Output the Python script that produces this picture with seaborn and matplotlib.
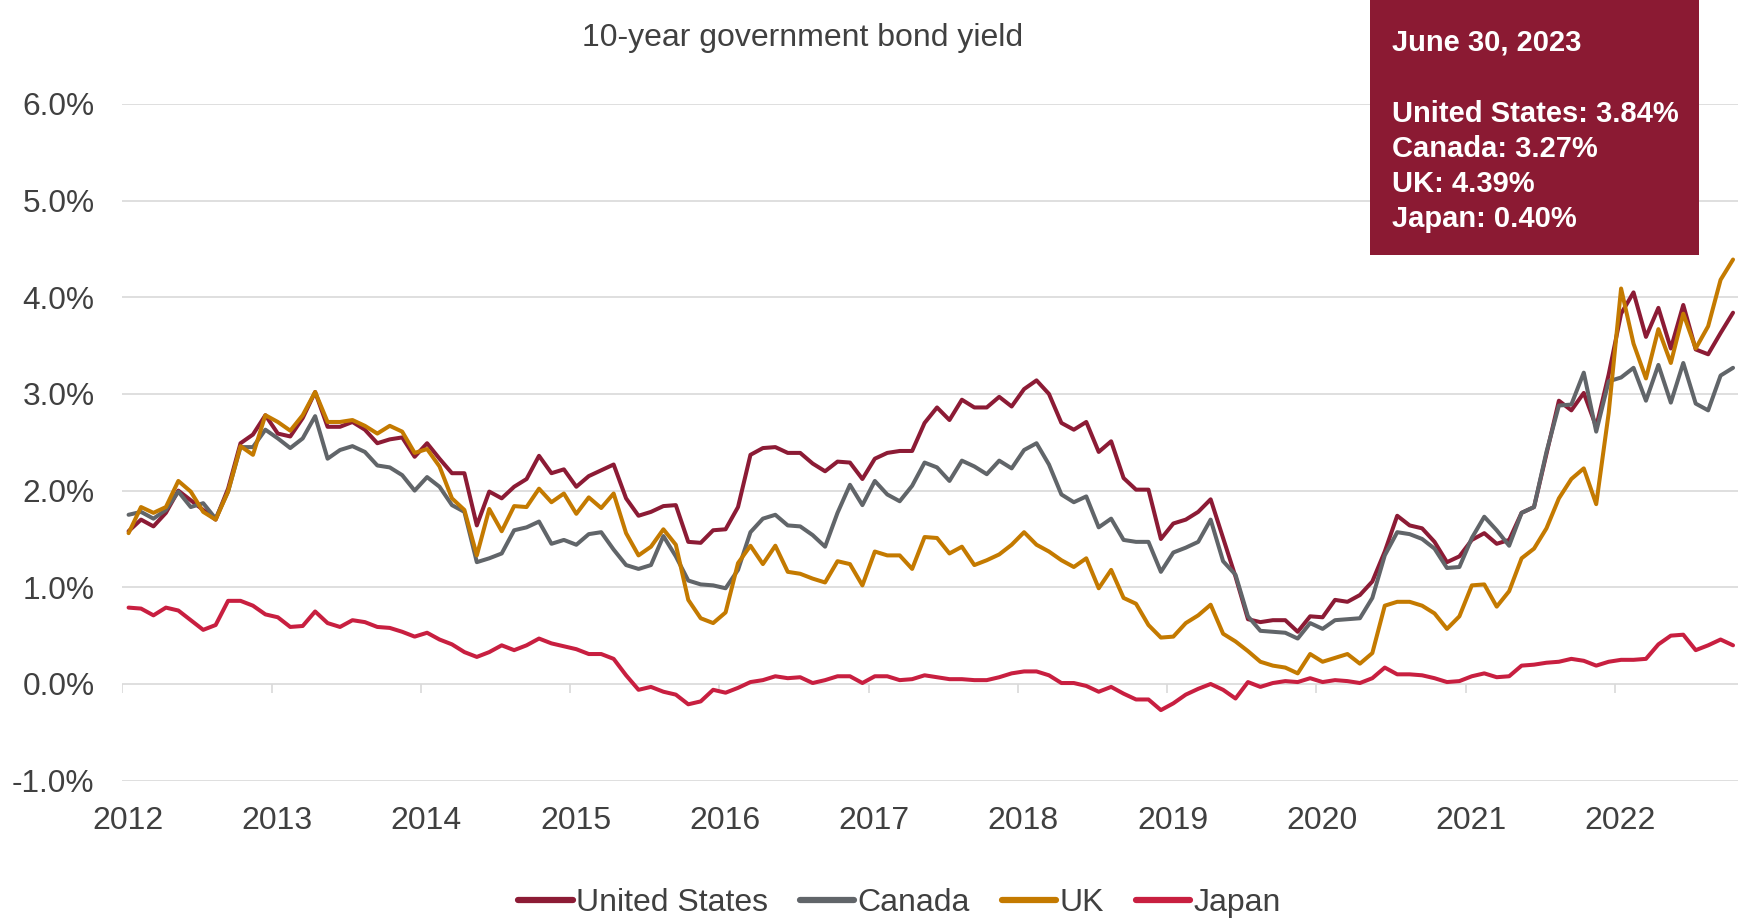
import numpy as np
import pandas as pd
import matplotlib
matplotlib.use("Agg")
import matplotlib.pyplot as plt
import seaborn as sns
from matplotlib.patches import Rectangle
from matplotlib.transforms import ScaledTranslation

# Month-end 10-year yields (%), oldest first
united_states = [
    1.58, 1.70, 1.63, 1.77, 2.00, 1.90, 1.80, 1.70, 2.02, 2.49, 2.58, 2.78,
    2.59, 2.56, 2.75, 3.02, 2.66, 2.66, 2.71, 2.63, 2.49, 2.53, 2.55, 2.35,
    2.49, 2.33, 2.18, 2.18, 1.64, 1.99, 1.92, 2.04, 2.12, 2.36, 2.18, 2.22,
    2.04, 2.15, 2.21, 2.27, 1.92, 1.74, 1.78, 1.84, 1.85, 1.47, 1.46, 1.59,
    1.60, 1.83, 2.37, 2.44, 2.45, 2.39, 2.39, 2.28, 2.20, 2.30, 2.29, 2.12,
    2.33, 2.39, 2.41, 2.41, 2.70, 2.86, 2.73, 2.94, 2.86, 2.86, 2.97, 2.87,
    3.05, 3.14, 3.00, 2.70, 2.63, 2.71, 2.40, 2.51, 2.13, 2.01, 2.01, 1.50,
    1.66, 1.70, 1.78, 1.91, 1.51, 1.11, 0.67, 0.64, 0.66, 0.66, 0.54, 0.70,
    0.69, 0.87, 0.85, 0.92, 1.06, 1.37, 1.74, 1.64, 1.61, 1.47, 1.26, 1.32,
    1.49, 1.56, 1.45, 1.49, 1.77, 1.83, 2.38, 2.93, 2.83, 3.01, 2.66, 3.20,
    3.83, 4.05, 3.59, 3.89, 3.47, 3.92, 3.46, 3.41, 3.63, 3.84,
]
canada = [
    1.75, 1.78, 1.71, 1.80, 1.99, 1.83, 1.87, 1.71, 1.99, 2.45, 2.45, 2.63,
    2.54, 2.44, 2.54, 2.77, 2.33, 2.42, 2.46, 2.40, 2.26, 2.24, 2.16, 2.00,
    2.14, 2.04, 1.85, 1.78, 1.26, 1.30, 1.35, 1.59, 1.62, 1.68, 1.45, 1.49,
    1.44, 1.55, 1.57, 1.39, 1.23, 1.19, 1.23, 1.53, 1.32, 1.07, 1.03, 1.02,
    0.99, 1.18, 1.57, 1.71, 1.75, 1.64, 1.63, 1.54, 1.42, 1.77, 2.06, 1.85,
    2.10, 1.96, 1.89, 2.05, 2.29, 2.24, 2.10, 2.31, 2.25, 2.17, 2.31, 2.23,
    2.42, 2.49, 2.27, 1.96, 1.88, 1.94, 1.62, 1.71, 1.49, 1.47, 1.47, 1.16,
    1.36, 1.41, 1.47, 1.70, 1.27, 1.13, 0.70, 0.55, 0.54, 0.53, 0.47, 0.63,
    0.57, 0.66, 0.67, 0.68, 0.89, 1.33, 1.57, 1.55, 1.50, 1.40, 1.20, 1.21,
    1.51, 1.73, 1.59, 1.43, 1.77, 1.83, 2.40, 2.88, 2.89, 3.22, 2.61, 3.13,
    3.17, 3.27, 2.93, 3.30, 2.91, 3.32, 2.90, 2.83, 3.19, 3.27,
]
uk = [
    1.56, 1.83, 1.77, 1.83, 2.10, 1.99, 1.78, 1.70, 1.99, 2.46, 2.37, 2.78,
    2.71, 2.62, 2.78, 3.02, 2.71, 2.71, 2.73, 2.67, 2.59, 2.67, 2.61, 2.39,
    2.43, 2.25, 1.92, 1.80, 1.33, 1.81, 1.58, 1.84, 1.83, 2.02, 1.88, 1.97,
    1.76, 1.93, 1.82, 1.97, 1.56, 1.33, 1.42, 1.60, 1.44, 0.87, 0.68, 0.63,
    0.74, 1.25, 1.43, 1.24, 1.43, 1.16, 1.14, 1.09, 1.05, 1.27, 1.24, 1.02,
    1.37, 1.33, 1.33, 1.19, 1.52, 1.51, 1.35, 1.42, 1.23, 1.28, 1.34, 1.44,
    1.57, 1.44, 1.37, 1.28, 1.21, 1.30, 0.99, 1.18, 0.89, 0.83, 0.61, 0.48,
    0.49, 0.63, 0.71, 0.82, 0.52, 0.44, 0.34, 0.23, 0.19, 0.17, 0.11, 0.31,
    0.23, 0.27, 0.31, 0.21, 0.32, 0.81, 0.85, 0.85, 0.81, 0.73, 0.57, 0.70,
    1.02, 1.03, 0.80, 0.96, 1.30, 1.40, 1.61, 1.92, 2.12, 2.23, 1.86, 2.80,
    4.09, 3.52, 3.16, 3.67, 3.32, 3.83, 3.47, 3.70, 4.18, 4.39,
]
japan = [
    0.79, 0.78, 0.71, 0.79, 0.76, 0.66, 0.56, 0.61, 0.86, 0.86, 0.81, 0.72,
    0.69, 0.59, 0.60, 0.75, 0.63, 0.59, 0.66, 0.64, 0.59, 0.58, 0.54, 0.49,
    0.53, 0.46, 0.41, 0.33, 0.28, 0.33, 0.40, 0.35, 0.40, 0.47, 0.42, 0.39,
    0.36, 0.31, 0.31, 0.26, 0.09, -0.06, -0.03, -0.08, -0.11, -0.21, -0.18, -0.06,
    -0.09, -0.04, 0.02, 0.04, 0.08, 0.06, 0.07, 0.01, 0.04, 0.08, 0.08, 0.01,
    0.08, 0.08, 0.04, 0.05, 0.09, 0.07, 0.05, 0.05, 0.04, 0.04, 0.07, 0.11,
    0.13, 0.13, 0.09, 0.01, 0.01, -0.02, -0.08, -0.03, -0.10, -0.16, -0.16, -0.27,
    -0.20, -0.11, -0.05, 0.00, -0.06, -0.15, 0.02, -0.03, 0.01, 0.03, 0.02, 0.06,
    0.02, 0.04, 0.03, 0.01, 0.06, 0.17, 0.10, 0.10, 0.09, 0.06, 0.02, 0.03,
    0.08, 0.11, 0.07, 0.08, 0.19, 0.20, 0.22, 0.23, 0.26, 0.24, 0.19, 0.23,
    0.25, 0.25, 0.26, 0.41, 0.50, 0.51, 0.35, 0.40, 0.46, 0.40,
]

series_names = ["United States", "Canada", "UK", "Japan"]
year_labels = [str(y) for y in range(2012, 2023)]
y_ticks = [-1, 0, 1, 2, 3, 4, 5, 6]
title = "10-year government bond yield"
as_of = "June 30, 2023"

palette = {
    "United States": "#8C1B35",
    "Canada": "#616569",
    "UK": "#C47A00",
    "Japan": "#C81F40",
}
text_color = "#404040"
grid_color = "#D9D9D9"
box_color = "#8B1A33"

sns.set_theme(style="white")
plt.rcParams["font.family"] = ["Liberation Sans", "DejaVu Sans"]

month = np.arange(len(united_states))
wide = pd.DataFrame({
    "month": month,
    "United States": united_states,
    "Canada": canada,
    "UK": uk,
    "Japan": japan,
})
long = wide.melt(id_vars="month", var_name="country", value_name="yield")

fig = plt.figure(figsize=(17.38, 9.19), dpi=100)
ax = fig.add_axes([0.0704, 0.1505, 0.9296, 0.7365])

sns.lineplot(data=long, x="month", y="yield", hue="country",
             hue_order=series_names, palette=palette, linewidth=2.9,
             ax=ax, legend=True)

ax.set_xlim(-0.5, 129.4)
ax.set_ylim(-1, 6)
ax.set_xlabel("")
ax.set_ylabel("")
for s in ax.spines.values():
    s.set_visible(False)

ax.set_yticks(y_ticks)
ax.set_yticklabels([f"{v:.1f}%" for v in y_ticks])
ax.yaxis.grid(True, color=grid_color, linewidth=1.2)
ax.set_axisbelow(True)
ax.tick_params(axis="y", length=0, pad=20, labelsize=22.8, labelcolor=text_color)

tick_pos = np.arange(len(year_labels)) * 12 - 0.5
ax.set_xticks(tick_pos)
ax.set_xticklabels(year_labels)
ax.tick_params(axis="x", length=0, pad=18, labelsize=23, labelcolor=text_color)
shift = ScaledTranslation(0.055, 0, fig.dpi_scale_trans)
for lbl in ax.get_xticklabels():
    lbl.set_transform(lbl.get_transform() + shift)
ax.vlines(tick_pos, -0.093, 0, color=grid_color, linewidth=1.2, zorder=0.5)

fig.text(0.462, 0.959, title, ha="center", va="center",
         fontsize=23, color=text_color)

sns.move_legend(ax, "center", bbox_to_anchor=(0.5175, 0.017),
                bbox_transform=fig.transFigure, ncol=4, frameon=False,
                title=None, handlelength=1.7, handletextpad=0.1,
                columnspacing=1.0, fontsize=23)
leg = ax.get_legend()
for h in leg.legend_handles:
    h.set_linewidth(4.5)
for t in leg.get_texts():
    t.set_color(text_color)

# Latest-reading box in the top right corner
fig.add_artist(Rectangle((0.7883, 0.7225), 0.1893, 0.2775,
                         transform=fig.transFigure, facecolor=box_color,
                         edgecolor="none", zorder=5))
latest = dict(zip(series_names, [united_states[-1], canada[-1], uk[-1], japan[-1]]))
fig.text(0.8008, 0.9535, as_of, ha="left", va="center", fontsize=21,
         fontweight="bold", color="white", zorder=6)
for name, yv in zip(series_names, [0.8755, 0.8375, 0.7995, 0.7615]):
    fig.text(0.8008, yv, f"{name}: {latest[name]:.2f}%", ha="left",
             va="center", fontsize=21, fontweight="bold", color="white",
             zorder=6)

fig.savefig("out.png", dpi=100)
